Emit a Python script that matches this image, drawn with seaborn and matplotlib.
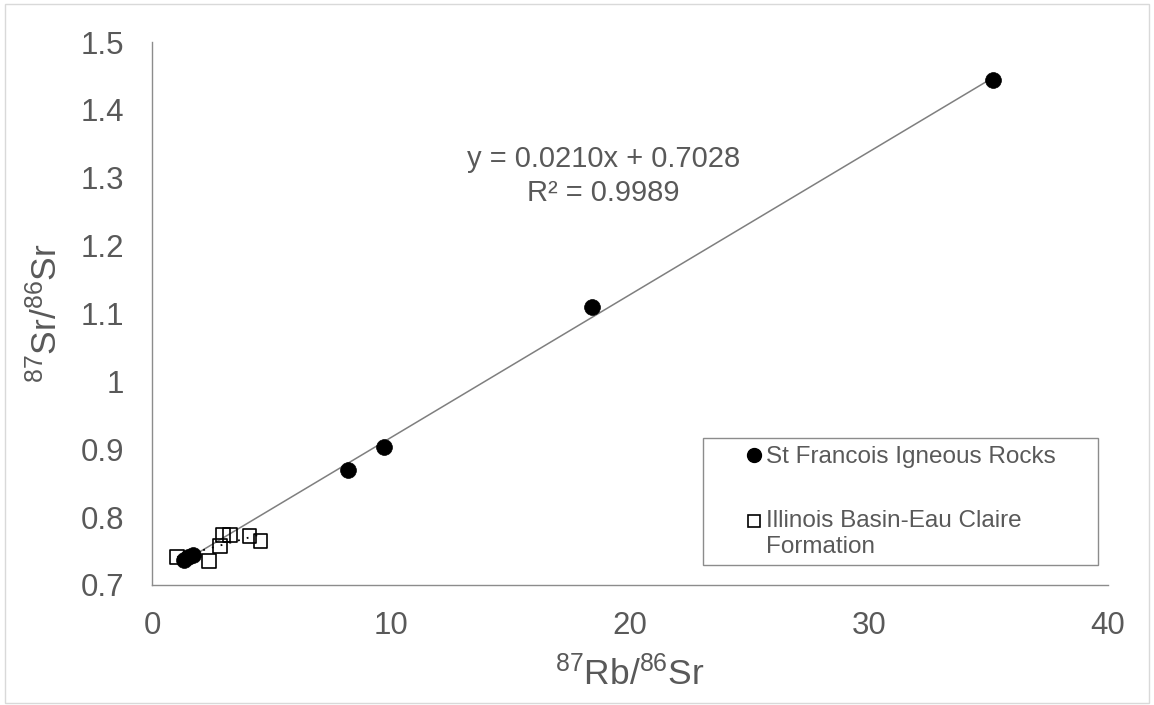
import numpy as np
import pandas as pd
import matplotlib
matplotlib.use("Agg")
import matplotlib.pyplot as plt
import seaborn as sns
from matplotlib.lines import Line2D
from matplotlib.patches import Rectangle
from matplotlib.legend_handler import HandlerLine2D

# St Francois igneous rocks (filled circles)
sf_rb = [1.33, 1.5, 1.7, 8.2, 9.7, 18.4, 35.2]
sf_sr = [0.737, 0.741, 0.744, 0.869, 0.904, 1.109, 1.444]

# Illinois Basin - Eau Claire Formation (open squares)
il_rb = [1.05, 2.4, 2.83, 2.96, 3.25, 4.08, 4.54]
il_sr = [0.741, 0.736, 0.757, 0.774, 0.774, 0.772, 0.765]

x_ticks = [0, 10, 20, 30, 40]
y_ticks = [0.7, 0.8, 0.9, 1.0, 1.1, 1.2, 1.3, 1.4, 1.5]
y_labels = ["0.7", "0.8", "0.9", "1", "1.1", "1.2", "1.3", "1.4", "1.5"]

sf = pd.DataFrame({"rb": sf_rb, "sr": sf_sr})
il = pd.DataFrame({"rb": il_rb, "sr": il_sr})

sns.set_theme(style="white")
plt.rcParams["font.family"] = ["Liberation Sans", "DejaVu Sans"]
plt.rcParams["mathtext.fontset"] = "custom"
plt.rcParams["mathtext.rm"] = "Liberation Sans"
plt.rcParams["mathtext.it"] = "Liberation Sans:italic"
plt.rcParams["mathtext.bf"] = "Liberation Sans:bold"

txt = "#595959"
axc = "#8c8c8c"


# legend marker sitting on the first line of a wrapped label
class TopLineHandler(HandlerLine2D):
    def __init__(self, shift=0.0, **kw):
        super().__init__(**kw)
        self.shift = shift

    def create_artists(self, legend, orig_handle, xdescent, ydescent, width, height, fontsize, trans):
        arts = super().create_artists(legend, orig_handle, xdescent, ydescent, width, height,
                                      fontsize, trans)
        for a in arts:
            a.set_ydata(np.asarray(a.get_ydata()) + self.shift * fontsize)
        return arts


fig = plt.figure(figsize=(11.54, 7.05), dpi=100)
ax = fig.add_axes([152 / 1154, 1 - 585 / 705, (1108 - 152) / 1154, (585 - 42) / 705])

# trend line for the igneous rocks
k, b = np.polyfit(sf["rb"], sf["sr"], 1)
xs = np.array([sf["rb"].min(), sf["rb"].max()])
ax.plot(xs, k * xs + b, color="#7f7f7f", lw=1.1, zorder=1)

# dotted trend for the sediments
k2, b2 = np.polyfit(il["rb"], il["sr"], 1)
xs2 = np.array([il["rb"].min(), il["rb"].max()])
ax.plot(xs2, k2 * xs2 + b2, color="black", lw=1.3, ls=(0, (1, 4)), zorder=3)

sns.scatterplot(data=sf, x="rb", y="sr", ax=ax, marker="o", s=130,
                color="black", edgecolor="black", linewidth=0.5, zorder=2)
sns.scatterplot(data=il, x="rb", y="sr", ax=ax, marker="s", s=100,
                facecolor="none", edgecolor="black", linewidth=1.2, zorder=4)

ax.set_xlim(0, 40)
ax.set_ylim(0.7, 1.5)
ax.set_xticks(x_ticks)
ax.set_yticks(y_ticks)
ax.set_yticklabels(y_labels)
ax.tick_params(axis="both", length=0, labelsize=22.5, labelcolor=txt)
ax.tick_params(axis="y", pad=20)
ax.tick_params(axis="x", pad=19)
for s in ["top", "right"]:
    ax.spines[s].set_visible(False)
for s in ["left", "bottom"]:
    ax.spines[s].set_color(axc)
    ax.spines[s].set_linewidth(1.0)

ax.set_xlabel(r"$^{87}$Rb/$^{86}$Sr", fontsize=25.5, color=txt, labelpad=10)
ax.set_ylabel(r"$^{87}$Sr/$^{86}$Sr", fontsize=25.5, color=txt, labelpad=12)

ax.text(18.9, 1.302, "y = 0.0210x + 0.7028\nR\u00b2 = 0.9989", ha="center", va="center",
        fontsize=21, color=txt, linespacing=1.28)

# legend
fig.patches.append(Rectangle((703 / 1154, 1 - 565 / 705), (1098 - 703) / 1154, (565 - 438) / 705,
                             transform=fig.transFigure, fill=False, edgecolor="#8c8c8c", lw=1.0))
h_sf = Line2D([], [], marker="o", ls="none", color="black", markersize=10)
h_il = Line2D([], [], marker="s", ls="none", markerfacecolor="white", markeredgecolor="black",
              markeredgewidth=1.2, markersize=9)
labels = ["St Francois Igneous Rocks", "Illinois Basin-Eau Claire\nFormation"]
leg = fig.legend([h_sf, h_il], labels, loc="upper left", bbox_to_anchor=(744 / 1154, 1 - 444 / 705),
                 frameon=False, fontsize=17.5, handlelength=0.6, handletextpad=0.2,
                 labelspacing=1.72, borderpad=0.1, borderaxespad=0,
                 handler_map={h_il: TopLineHandler(shift=0.54)})
for t in leg.get_texts():
    t.set_color(txt)

# outer chart border
fig.patches.append(Rectangle((5 / 1154, 2 / 705), 1144 / 1154, 699 / 705, transform=fig.transFigure,
                             fill=False, edgecolor="#d9d9d9", lw=1.0))

plt.savefig("out.png", dpi=100)
plt.close()
